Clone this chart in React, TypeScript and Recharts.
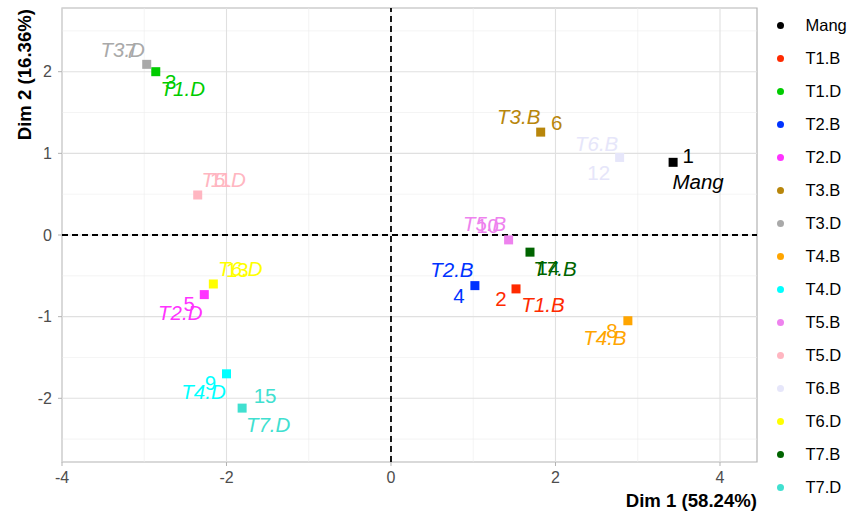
import React from "react";
import {
  ScatterChart,
  Scatter,
  XAxis,
  YAxis,
  ReferenceLine,
  ReferenceArea,
  Customized,
} from "recharts";

const groups = ["Mang", "T1.B", "T1.D", "T2.B", "T2.D", "T3.B", "T3.D", "T4.B", "T4.D", "T5.B", "T5.D", "T6.B", "T6.D", "T7.B", "T7.D"];
const ids = ["1", "2", "3", "4", "5", "6", "7", "8", "9", "10", "11", "12", "13", "14", "15"];
const dim1 = [3.43, 1.52, -2.86, 1.02, -2.27, 1.82, -2.97, 2.88, -2.0, 1.43, -2.35, 2.78, -2.16, 1.69, -1.81];
const dim2 = [0.89, -0.66, 2.0, -0.62, -0.73, 1.26, 2.09, -1.05, -1.7, -0.06, 0.49, 0.95, -0.6, -0.21, -2.12];
const colors = ["#000000", "#FF2A00", "#00CC00", "#0033FF", "#FF33FF", "#B8860B", "#A9A9A9", "#FFA500", "#00FFFF", "#EE82EE", "#FFB6C1", "#E6E6FA", "#FFFF00", "#006400", "#40E0D0"];
const xTicks = [-4, -2, 0, 2, 4];
const yTicks = [-2, -1, 0, 1, 2];
const xMinor = [-3, -1, 1, 3];
const yMinor = [-2.5, -1.5, -0.5, 0.5, 1.5, 2.5];

// label offsets in pixels (styling): [numDx, numDy, nameDx, nameDy]
const labelOffsets = [
  [15, -7, 25, 19],
  [-15, 10, 27, 16],
  [15, 10, 27, 17],
  [-16, 10, -23, -16],
  [-15, 9, -24, 18],
  [16, -10, -22, -16],
  [-16, -14, -24, -15],
  [-16, 10, -23, 17],
  [-16, 9, -23, 18],
  [-21, -14, -24, -16],
  [23, -15, 26, -15],
  [-21, 15, -23, -14],
  [24, -14, 27, -15],
  [18, 15, 25, 16],
  [23, -13, 26, 16],
];

const data = groups.map((g, i) => ({ name: g, id: ids[i], x: dim1[i], y: dim2[i], idx: i }));

const FONT = "'Liberation Sans', Arial, Helvetica, sans-serif";

const PointShape = (props: any) => {
  const { cx, cy, payload } = props;
  const i = payload.idx;
  const c = colors[i];
  const o = labelOffsets[i];
  return (
    <g>
      <rect x={cx - 4.5} y={cy - 4.5} width={9} height={9} fill={c} />
      <text x={cx + o[0]} y={cy + o[1]} fill={c} fontSize={20.5} fontFamily={FONT} textAnchor="middle" dominantBaseline="central">
        {payload.id}
      </text>
      <text x={cx + o[2]} y={cy + o[3]} fill={c} fontSize={20.5} fontFamily={FONT} fontStyle="italic" textAnchor="middle" dominantBaseline="central">
        {payload.name}
      </text>
    </g>
  );
};

const Titles = () => (
  <g fontFamily={FONT} fontWeight="bold" fontSize={18.6} fill="#000">
    <text x={757} y={507} textAnchor="end">Dim 1 (58.24%)</text>
    <text transform="translate(31,9) rotate(-90)" textAnchor="end">Dim 2 (16.36%)</text>
  </g>
);

export default function App() {
  return (
    <div style={{ position: "absolute", left: 0, top: 0, width: 848, height: 513, background: "#fff" }}>
      <ScatterChart width={848} height={513} margin={{ top: 8, right: 91, bottom: 0, left: 0 }}>
        <XAxis
          type="number"
          dataKey="x"
          domain={[-4, 4.45]}
          ticks={xTicks}
          allowDataOverflow
          height={51}
          axisLine={false}
          tickSize={4}
          tickMargin={6}
          tickLine={{ stroke: "#B3B3B3" }}
          tick={{ fill: "#4D4D4D", fontSize: 16, fontFamily: FONT }}
        />
        <YAxis
          type="number"
          dataKey="y"
          domain={[-2.78, 2.78]}
          ticks={yTicks}
          allowDataOverflow
          width={62}
          axisLine={false}
          tickSize={4}
          tickMargin={6}
          tickLine={{ stroke: "#B3B3B3" }}
          tick={{ fill: "#4D4D4D", fontSize: 16, fontFamily: FONT }}
        />
        {xMinor.map((v) => (
          <ReferenceLine key={"xm" + v} x={v} stroke="#EDEDED" strokeWidth={0.6} />
        ))}
        {yMinor.map((v) => (
          <ReferenceLine key={"ym" + v} y={v} stroke="#EDEDED" strokeWidth={0.6} />
        ))}
        {xTicks.map((v) => (
          <ReferenceLine key={"xM" + v} x={v} stroke="#E0E0E0" strokeWidth={1.1} />
        ))}
        {yTicks.map((v) => (
          <ReferenceLine key={"yM" + v} y={v} stroke="#E0E0E0" strokeWidth={1.1} />
        ))}
        <ReferenceArea x1={-4} x2={4.45} y1={-2.78} y2={2.78} fill="none" stroke="#B3B3B3" strokeWidth={1.2} fillOpacity={0} />
        <ReferenceLine x={0} stroke="#000" strokeDasharray="6 4" strokeWidth={1.8} />
        <ReferenceLine y={0} stroke="#000" strokeDasharray="6 4" strokeWidth={1.8} />
        <Scatter data={data} shape={PointShape} isAnimationActive={false} />
        <Customized component={Titles} />
      </ScatterChart>
      <div style={{ position: "absolute", left: 770, top: 0, fontFamily: FONT, fontSize: 16.5, color: "#000" }}>
        {groups.map((g, i) => (
          <div key={g} style={{ position: "absolute", top: 25 + i * 33.07 - 10, left: 0, height: 20, display: "flex", alignItems: "center", whiteSpace: "nowrap" }}>
            <span style={{ display: "inline-block", width: 7, height: 7, borderRadius: "50%", background: colors[i], marginLeft: 6.5, marginRight: 22 }} />
            <span>{g}</span>
          </div>
        ))}
      </div>
    </div>
  );
}
